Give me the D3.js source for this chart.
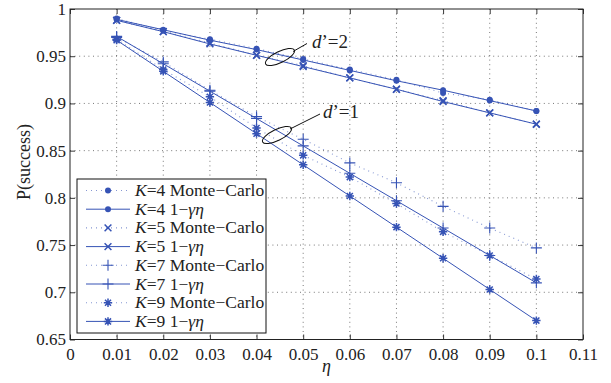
<!DOCTYPE html>
<html>
<head>
<meta charset="utf-8">
<script src="https://cdn.jsdelivr.net/npm/d3@7/dist/d3.min.js"></script>
<style>
  html, body { margin: 0; padding: 0; background: #fff; }
</style>
</head>
<body>
<svg id="chart" width="611" height="383" font-family="Liberation Serif"></svg>
<script>
// ── Data ─────────────────────────────────────────────────────────────────────
var eta = [0.01, 0.02, 0.03, 0.04, 0.05, 0.06, 0.07, 0.08, 0.09, 0.1];

var k4MonteCarlo = [0.990, 0.977, 0.968, 0.958, 0.947, 0.936, 0.925, 0.911, 0.904, 0.892];
var k4Model      = [0.989, 0.978, 0.967, 0.957, 0.946, 0.935, 0.924, 0.914, 0.903, 0.892];
var k5MonteCarlo = [0.988, 0.976, 0.964, 0.951, 0.940, 0.927, 0.915, 0.903, 0.890, 0.878];
var k5Model      = [0.988, 0.976, 0.963, 0.951, 0.939, 0.927, 0.915, 0.902, 0.890, 0.878];
var k7MonteCarlo = [0.970, 0.944, 0.914, 0.886, 0.862, 0.837, 0.816, 0.791, 0.768, 0.747];
var k7Model      = [0.971, 0.942, 0.913, 0.884, 0.855, 0.826, 0.797, 0.768, 0.739, 0.710];
var k9MonteCarlo = [0.968, 0.936, 0.907, 0.874, 0.845, 0.822, 0.794, 0.764, 0.739, 0.714];
var k9Model      = [0.967, 0.934, 0.901, 0.868, 0.835, 0.802, 0.769, 0.736, 0.703, 0.670];

var xTicks = [0, 0.01, 0.02, 0.03, 0.04, 0.05, 0.06, 0.07, 0.08, 0.09, 0.1, 0.11];
var yTicks = [0.65, 0.7, 0.75, 0.8, 0.85, 0.9, 0.95, 1];

var series = [
  { k: 4, kind: "Monte\u2212Carlo", values: k4MonteCarlo, marker: "dot",   dotted: true },
  { k: 4, kind: "model",            values: k4Model,      marker: "dot",   dotted: false },
  { k: 5, kind: "Monte\u2212Carlo", values: k5MonteCarlo, marker: "cross", dotted: true },
  { k: 5, kind: "model",            values: k5Model,      marker: "cross", dotted: false },
  { k: 7, kind: "Monte\u2212Carlo", values: k7MonteCarlo, marker: "plus",  dotted: true },
  { k: 7, kind: "model",            values: k7Model,      marker: "plus",  dotted: false },
  { k: 9, kind: "Monte\u2212Carlo", values: k9MonteCarlo, marker: "star",  dotted: true },
  { k: 9, kind: "model",            values: k9Model,      marker: "star",  dotted: false }
];

// ── Layout ───────────────────────────────────────────────────────────────────
var FONT = "Liberation Serif";
var blue = "#3653b5";
var L = 70, R = 583, T = 9, B = 339.5;

var svg = d3.select("#chart");
var x = d3.scaleLinear().domain([0, 0.11]).range([L, R]);
var y = d3.scaleLinear().domain([0.65, 1]).range([B, T]);

// ── Grid ─────────────────────────────────────────────────────────────────────
var grid = svg.append("g").attr("stroke", "#555").attr("stroke-width", 0.8)
  .attr("stroke-dasharray", "1,3.6");
grid.selectAll("line.gx").data(xTicks.slice(1, -1)).join("line")
  .attr("x1", function (d) { return x(d); }).attr("x2", function (d) { return x(d); })
  .attr("y1", T).attr("y2", B);
grid.selectAll("line.gy").data(yTicks.slice(1, -1)).join("line")
  .attr("y1", function (d) { return y(d); }).attr("y2", function (d) { return y(d); })
  .attr("x1", L).attr("x2", R);

// ── Axes (ticks inside, on all four sides) ──────────────────────────────────
function styleAxis(g) {
  g.attr("font-family", FONT).attr("font-size", 17);
  g.select(".domain").remove();
  g.selectAll(".tick line").attr("stroke", "#222").attr("stroke-width", 0.9);
  g.selectAll(".tick text").attr("fill", "#222");
}
var fmt = function (d) { return d === 0 ? "0" : String(+d.toFixed(2)); };

svg.append("g").attr("transform", "translate(0," + B + ")")
  .call(d3.axisBottom(x).tickValues(xTicks).tickSize(-5).tickPadding(8).tickFormat(fmt))
  .call(styleAxis);
svg.append("g").attr("transform", "translate(0," + T + ")")
  .call(d3.axisTop(x).tickValues(xTicks).tickSize(-5).tickFormat(""))
  .call(styleAxis);
svg.append("g").attr("transform", "translate(" + L + ",0)")
  .call(d3.axisLeft(y).tickValues(yTicks).tickSize(-5).tickPadding(4).tickFormat(fmt))
  .call(styleAxis);
svg.append("g").attr("transform", "translate(" + R + ",0)")
  .call(d3.axisRight(y).tickValues(yTicks).tickSize(-5).tickFormat(""))
  .call(styleAxis);

svg.append("rect").attr("x", L).attr("y", T).attr("width", R - L).attr("height", B - T)
  .attr("fill", "none").attr("stroke", "#222").attr("stroke-width", 1);

// axis titles
svg.append("text").attr("x", (L + R) / 2).attr("y", 372).attr("text-anchor", "middle")
  .attr("font-size", 18).attr("font-style", "italic").text("\u03b7");
svg.append("text").attr("transform", "translate(30,162) rotate(-90)")
  .attr("text-anchor", "middle").attr("font-size", 18).text("P(success)");

// ── Markers ──────────────────────────────────────────────────────────────────
function drawMarker(g, type, cx, cy) {
  var s = 4.2;
  if (type === "dot") {
    g.append("circle").attr("cx", cx).attr("cy", cy).attr("r", 3).attr("fill", blue);
    return;
  }
  var p = d3.path();
  if (type === "plus" || type === "star") {
    var a = type === "star" ? s : 5.5;
    p.moveTo(cx - a, cy); p.lineTo(cx + a, cy);
    p.moveTo(cx, cy - a); p.lineTo(cx, cy + a);
  }
  if (type === "cross" || type === "star") {
    var c = type === "star" ? s * 0.72 : 3.4;
    p.moveTo(cx - c, cy - c); p.lineTo(cx + c, cy + c);
    p.moveTo(cx - c, cy + c); p.lineTo(cx + c, cy - c);
  }
  g.append("path").attr("d", p.toString()).attr("stroke", blue)
    .attr("stroke-width", type === "plus" ? 1.1 : 1.5).attr("fill", "none");
}

// ── Series ───────────────────────────────────────────────────────────────────
var line = d3.line()
  .x(function (d, i) { return x(eta[i]); })
  .y(function (d) { return y(d); });

var plot = svg.append("g");
series.forEach(function (s) {
  var g = plot.append("g");
  g.append("path").attr("d", line(s.values)).attr("fill", "none")
    .attr("stroke", blue)
    .attr("stroke-width", s.dotted ? 1.1 : 1)
    .attr("stroke-dasharray", s.dotted ? "1,4" : null)
    .attr("opacity", s.dotted ? 0.6 : 1);
  s.values.forEach(function (v, i) { drawMarker(g, s.marker, x(eta[i]), y(v)); });
});

// ── Annotations ──────────────────────────────────────────────────────────────
var notes = [
  { label: "2", cx: 280, cy: 57, lx1: 293, ly1: 51.5, lx2: 307, ly2: 43.5, tx: 312, ty: 48 },
  { label: "1", cx: 277, cy: 135, lx1: 290, ly1: 129, lx2: 320, ly2: 114, tx: 323, ty: 118 }
];
notes.forEach(function (n) {
  svg.append("ellipse").attr("cx", n.cx).attr("cy", n.cy).attr("rx", 16).attr("ry", 5.5)
    .attr("transform", "rotate(-26," + n.cx + "," + n.cy + ")")
    .attr("fill", "none").attr("stroke", "#111").attr("stroke-width", 1);
  svg.append("line").attr("x1", n.lx1).attr("y1", n.ly1).attr("x2", n.lx2).attr("y2", n.ly2)
    .attr("stroke", "#111").attr("stroke-width", 1);
  var t = svg.append("text").attr("x", n.tx).attr("y", n.ty).attr("font-size", 19);
  t.append("tspan").attr("font-style", "italic").text("d");
  t.append("tspan").text("\u2019=" + n.label);
});

// ── Legend ───────────────────────────────────────────────────────────────────
var lg = svg.append("g");
lg.append("rect").attr("x", 77).attr("y", 179).attr("width", 189).attr("height", 154)
  .attr("fill", "#fff").attr("stroke", "#111").attr("stroke-width", 1);
series.forEach(function (s, i) {
  var cy = 190.5 + i * 18.7;
  var g = lg.append("g");
  g.append("line").attr("x1", 86).attr("x2", 130).attr("y1", cy).attr("y2", cy)
    .attr("stroke", blue).attr("stroke-width", s.dotted ? 1.1 : 1)
    .attr("stroke-dasharray", s.dotted ? "1,4" : null)
    .attr("opacity", s.dotted ? 0.6 : 1);
  drawMarker(g, s.marker, 108, cy);
  var t = g.append("text").attr("x", 135).attr("y", cy + 5.5).attr("font-size", 17.5);
  t.append("tspan").attr("font-style", "italic").text("K");
  t.append("tspan").text("=" + s.k + " ");
  if (s.dotted) {
    t.append("tspan").text(s.kind);
  } else {
    t.append("tspan").text("1\u2212");
    t.append("tspan").attr("font-style", "italic").text("\u03b3\u03b7");
  }
});

svg.selectAll("text").attr("font-family", FONT).attr("fill", "#222");
</script>
</body>
</html>
